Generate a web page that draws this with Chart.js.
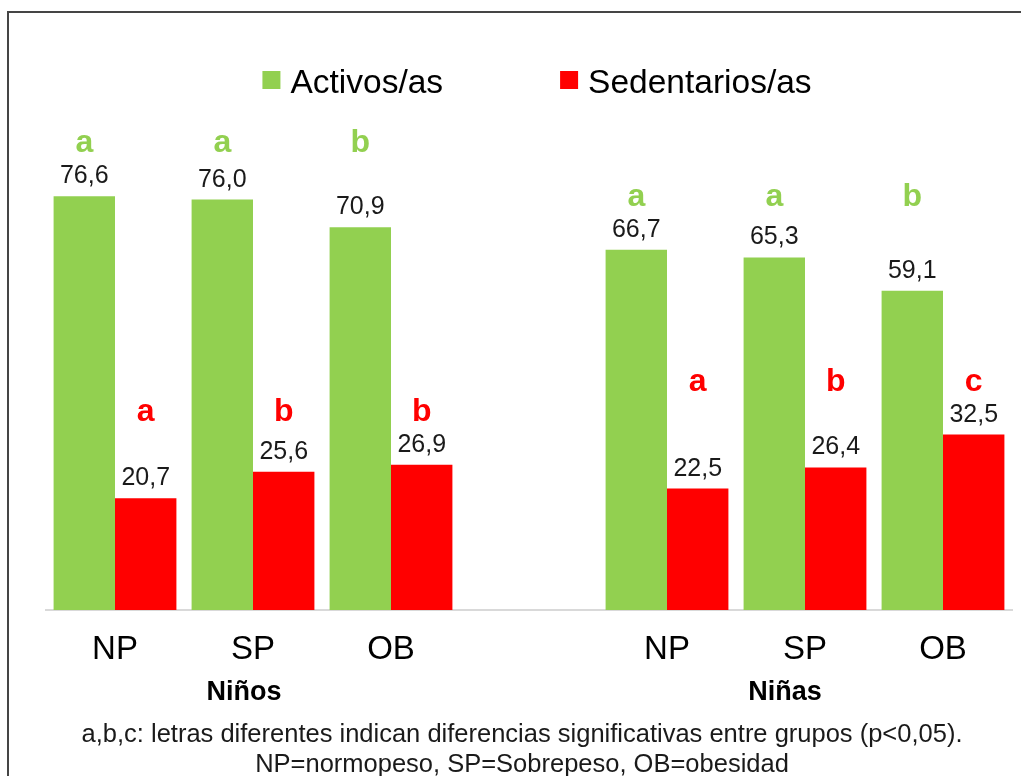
<!DOCTYPE html>
<html>
<head>
<meta charset="utf-8">
<script src="https://cdn.jsdelivr.net/npm/chart.js@4.4.1/dist/chart.umd.min.js"></script>
<style>
html, body { margin: 0; padding: 0; background: #fff; overflow: hidden; }
.frame { position: absolute; left: 7px; top: 11px; width: 1100px; height: 900px; border-left: 2px solid #454545; border-top: 2px solid #454545; }
.wrap { position: absolute; left: 0; top: 0; width: 1021px; height: 776px; }
</style>
</head>
<body>
<div class="frame"></div>
<div class="wrap"><canvas id="chart" width="1021" height="776"></canvas></div>
<script>
// categories (empty slot separates the two groups)
const categories = ['NP', 'SP', 'OB', '', 'NP', 'SP', 'OB'];
const groups = ['Niños', 'Niñas'];
const activos = [76.6, 76.0, 70.9, null, 66.7, 65.3, 59.1];
const sedentarios = [20.7, 25.6, 26.9, null, 22.5, 26.4, 32.5];
const letrasActivos = ['a', 'a', 'b', '', 'a', 'a', 'b'];
const letrasSedentarios = ['a', 'b', 'b', '', 'a', 'b', 'c'];
const notes = [
    'a,b,c: letras diferentes indican diferencias significativas entre grupos (p<0,05).',
    'NP=normopeso, SP=Sobrepeso, OB=obesidad'
];

const FONT = '"Liberation Sans", Arial, sans-serif';

let annotations = {
    id: 'annotations',
    afterDatasetsDraw: function(chart) {
        const ctx = chart.ctx;
        const xScale = chart.scales.x;
        const yScale = chart.scales.y;
        const area = chart.chartArea;
        ctx.save();
        ctx.textAlign = 'center';
        ctx.textBaseline = 'alphabetic';

        // value labels + significance letters
        chart.data.datasets.forEach(function(ds, di) {
            const meta = chart.getDatasetMeta(di);
            meta.data.forEach(function(bar, i) {
                const v = ds.data[i];
                if (v == null) return;
                ctx.font = '25px ' + FONT;
                ctx.fillStyle = '#1a1a1a';
                ctx.fillText(v.toFixed(1).replace('.', ','), bar.x, bar.y - 13);

                // letters sit at one height per group, above the tallest bar
                const idx = i < 3 ? [0, 1, 2] : [4, 5, 6];
                const top = Math.max.apply(null, idx.map(function(j) { return ds.data[j]; }));
                ctx.font = 'bold 32px ' + FONT;
                ctx.fillStyle = ds.backgroundColor;
                ctx.fillText(ds.letters[i], bar.x, yScale.getPixelForValue(top) - 44);
            });
        });

        // group names
        ctx.font = 'bold 27px ' + FONT;
        ctx.fillStyle = '#000';
        ctx.fillText(groups[0], xScale.getPixelForValue(1) - 9, area.bottom + 90);
        ctx.fillText(groups[1], xScale.getPixelForValue(5) - 20, area.bottom + 90);

        // footnote
        ctx.font = '25.5px ' + FONT;
        ctx.fillStyle = '#1a1a1a';
        ctx.fillText(notes[0], 522, area.bottom + 132);
        ctx.fillText(notes[1], 522, area.bottom + 162);

        // legend
        ctx.font = '33.5px ' + FONT;
        const items = chart.data.datasets.map(function(ds) {
            return { label: ds.label, color: ds.backgroundColor, w: ctx.measureText(ds.label).width };
        });
        const box = 18, gap = 10, spacing = 117;
        let total = 0;
        items.forEach(function(it, k) { total += box + gap + it.w + (k > 0 ? spacing : 0); });
        let x = 537 - total / 2;
        ctx.textAlign = 'left';
        items.forEach(function(it) {
            ctx.fillStyle = it.color;
            ctx.fillRect(x, 71, box, box);
            ctx.fillStyle = '#000';
            ctx.fillText(it.label, x + box + gap, 93);
            x += box + gap + it.w + spacing;
        });
        ctx.restore();
    }
};

new Chart(document.getElementById('chart'), {
    type: 'bar',
    data: {
        labels: categories,
        datasets: [{
            label: 'Activos/as',
            data: activos,
            letters: letrasActivos,
            backgroundColor: '#92D050',
            barPercentage: 1.0,
            categoryPercentage: 0.89
        }, {
            label: 'Sedentarios/as',
            data: sedentarios,
            letters: letrasSedentarios,
            backgroundColor: '#FF0000',
            barPercentage: 1.0,
            categoryPercentage: 0.89
        }]
    },
    options: {
        responsive: false,
        animation: false,
        layout: {
            padding: { left: 46, right: 9, top: 124, bottom: 106 }
        },
        plugins: {
            legend: { display: false },
            tooltip: { enabled: false }
        },
        scales: {
            x: {
                grid: { display: false, drawTicks: false },
                border: { display: true, color: '#d9d9d9', width: 2 },
                ticks: {
                    color: '#000',
                    padding: 20,
                    font: { family: FONT, size: 33 }
                },
                afterFit: function(scale) { scale.height = 60; }
            },
            y: {
                display: false,
                min: 0,
                max: 90
            }
        }
    },
    plugins: [annotations]
});
</script>
</body>
</html>
